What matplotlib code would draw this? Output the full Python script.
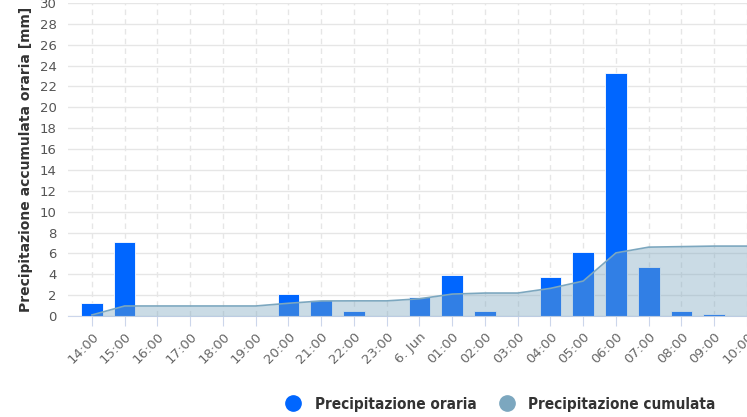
import matplotlib
matplotlib.use("Agg")
import matplotlib.pyplot as plt
from matplotlib.lines import Line2D
import numpy as np

hours = ["14:00", "15:00", "16:00", "17:00", "18:00", "19:00", "20:00", "21:00",
         "22:00", "23:00", "6. Jun", "01:00", "02:00", "03:00", "04:00", "05:00",
         "06:00", "07:00", "08:00", "09:00", "10:00"]
hourly = [1.2, 7.1, 0, 0, 0, 0, 2.1, 1.5, 0.5, 0, 1.8, 3.9, 0.5, 0, 3.7, 6.1,
          23.3, 4.7, 0.5, 0.15, 0]
cumulative = [0.1, 0.96, 0.96, 0.96, 0.96, 0.96, 1.22, 1.44, 1.45, 1.45, 1.65,
              2.1, 2.2, 2.2, 2.65, 3.35, 6.05, 6.6, 6.65, 6.7, 6.7]

x = np.arange(len(hours))

fig = plt.figure(figsize=(7.47, 4.17), dpi=100)
ax = fig.add_axes([68/747, 101/417, 1 - 68/747, 313/417])

ax.bar(x, hourly, width=0.66, color="#0066FF", edgecolor="white", linewidth=0.6, zorder=2)
ax.fill_between(x, cumulative, 0, color="#7CA7BF", alpha=0.4, linewidth=0, zorder=3)
ax.plot(x, cumulative, color="#7CA7BF", lw=1.2, zorder=4)

ax.set_xlim(-0.73, 20)
ax.set_ylim(0, 30)
ax.set_yticks(np.arange(0, 31, 2))
ax.set_xticks(x)
ax.set_xticklabels(hours, rotation=45, ha="right", rotation_mode="anchor")

ax.grid(axis="y", color="#e6e6e6", lw=1, zorder=0)
ax.grid(axis="x", color="#e6e6e6", lw=1, ls=(0, (4, 3)), zorder=0)
ax.set_axisbelow(True)

for s in ["top", "right", "left"]:
    ax.spines[s].set_visible(False)
ax.spines["bottom"].set_color("#ccd6eb")
ax.tick_params(axis="x", length=7, color="#ccd6eb", labelcolor="#666666", labelsize=9.5, pad=3)
ax.tick_params(axis="y", length=0, labelcolor="#555555", labelsize=9.5, pad=8)

ax.set_ylabel("Precipitazione accumulata oraria [mm]", fontsize=10, fontweight="bold",
              color="#333333", labelpad=5)

handles = [Line2D([], [], marker="o", ls="", color="#0066FF", markersize=11),
           Line2D([], [], marker="o", ls="", color="#7CA7BF", markersize=11)]
fig.legend(handles, ["Precipitazione oraria", "Precipitazione cumulata"],
           loc="center", bbox_to_anchor=(497/747, 1 - 404/417), ncol=2, frameon=False,
           prop={"family": "DejaVu Sans", "stretch": "condensed", "weight": "bold", "size": 11},
           handletextpad=0.4, columnspacing=1.0, labelcolor="#333333")

fig.savefig("out.png", dpi=100)
